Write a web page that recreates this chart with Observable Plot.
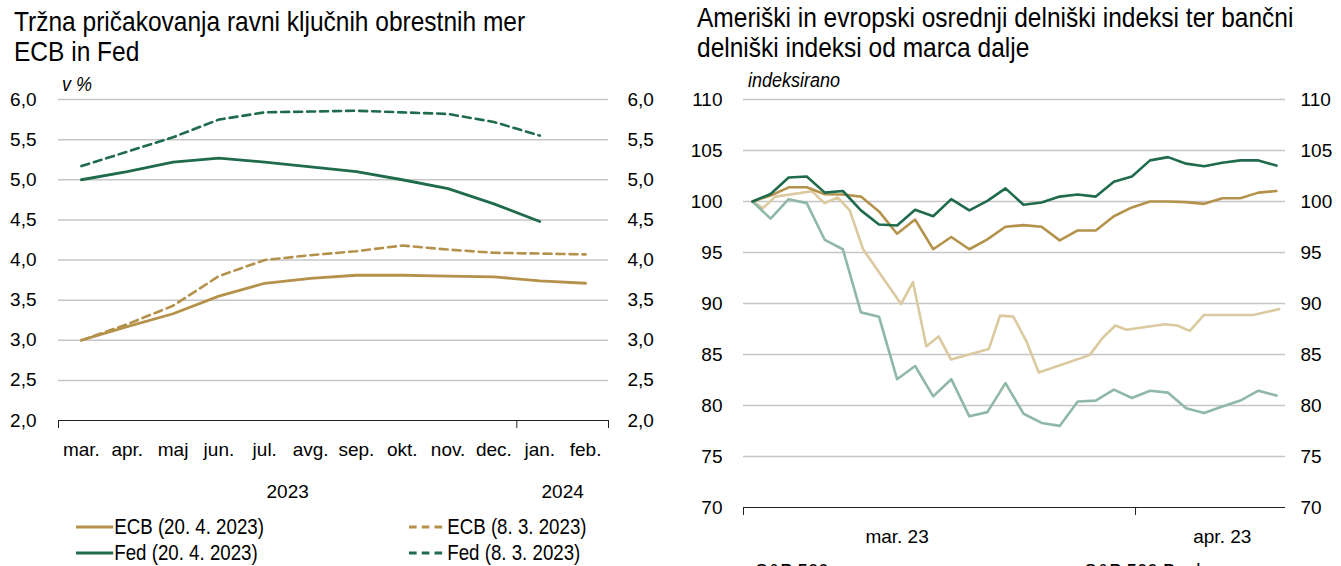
<!DOCTYPE html>
<html>
<head>
<meta charset="utf-8">
<script src="https://cdn.jsdelivr.net/npm/d3@7"></script>
<script src="https://cdn.jsdelivr.net/npm/@observablehq/plot@0.6"></script>
<style>
  html, body { margin: 0; padding: 0; background: #fff; }
  body { width: 1341px; height: 566px; overflow: hidden; position: relative;
         font-family: "Liberation Sans", Arial, sans-serif; color: #000; }
  .abs { position: absolute; white-space: nowrap; transform-origin: 0 50%; }
  .title { font-size: 28px; line-height: 30px; transform: scaleX(0.875); transform-origin: 0 0; }
  .unit { font-size: 20px; font-style: italic; transform: scaleX(0.9); }
  .leg { font-size: 22px; line-height: 26px; display: flex; align-items: center; transform: scaleX(0.85); }
  .leg svg { margin-right: 1px; }
</style>
</head>
<body>
<div id="root"></div>
<script>
// ---------- Left chart data ----------
const months = ["mar.", "apr.", "maj", "jun.", "jul.", "avg.", "sep.", "okt.", "nov.", "dec.", "jan.", "feb."];
const yearLabels = ["2023", "2024"];
const yearFirstMonth = [0, 10];
const yearLastMonth = [9, 11];
const leftYTicks = [2.0, 2.5, 3.0, 3.5, 4.0, 4.5, 5.0, 5.5, 6.0];

const ecbApr = [3.00, 3.17, 3.33, 3.55, 3.71, 3.77, 3.81, 3.81, 3.80, 3.79, 3.74, 3.71];
const ecbMar = [3.00, 3.20, 3.43, 3.80, 4.00, 4.06, 4.11, 4.18, 4.13, 4.09, 4.08, 4.07];
const fedApr = [5.00, 5.10, 5.22, 5.27, 5.22, 5.16, 5.10, 5.00, 4.89, 4.70, 4.48];
const fedMar = [5.17, 5.35, 5.53, 5.75, 5.84, 5.85, 5.86, 5.84, 5.82, 5.72, 5.55];
const leftSeriesNames = ["ECB (20. 4. 2023)", "ECB (8. 3. 2023)", "Fed (20. 4. 2023)", "Fed (8. 3. 2023)"];

// ---------- Right chart data ----------
const rightYTicks = [70, 75, 80, 85, 90, 95, 100, 105, 110];
const rightXTickPos = [-0.5, 21.2];      // axis tick marks (start, 1 April)
const rightXLabelPos = [8.0, 26.0];
const rightXLabels = ["mar. 23", "apr. 23"];
const rightXDomain = [-0.5, 29.5];

const sp500 = [100.0, 100.74, 102.35, 102.45, 100.87, 101.03, 99.13, 97.74, 97.65, 99.19,
               98.55, 100.23, 99.13, 100.06, 101.29, 99.68, 99.90, 100.48, 100.68, 100.48,
               101.94, 102.45, 104.03, 104.35, 103.71, 103.45, 103.80, 104.03, 104.03, 103.52];
const eurostoxx50 = [100.0, 100.58, 101.39, 101.39, 100.71, 100.68, 100.48, 99.03, 96.84, 98.23,
               95.32, 96.52, 95.32, 96.29, 97.52, 97.68, 97.52, 96.19, 97.16, 97.16,
               98.55, 99.42, 100.0, 100.0, 99.94, 99.77, 100.32, 100.32, 100.87, 101.03];
const spBanks = [100.0, 98.32, 100.23, 99.84, 96.23, 95.32, 89.13, 88.71, 82.58, 83.87,
               80.90, 82.58, 78.94, 79.35, 82.19, 79.19, 78.29, 78.00, 80.39, 80.48,
               81.55, 80.74, 81.45, 81.26, 79.74, 79.26, 79.90, 80.48, 81.45, 80.97];
// Euro Stoxx Banks is drawn on its own (calendar-day) positions
const euBanksPos = [0, 0.58, 1.26, 3.30, 3.98, 4.72, 5.38, 6.12, 8.22, 8.88, 9.62, 10.30, 10.98,
               13.08, 13.70, 14.44, 15.16, 15.84, 18.66, 19.34, 20.08, 20.70, 22.83, 23.51,
               24.20, 24.98, 27.70, 29.15];
const euBanks = [100.0, 99.35, 100.48, 101.0, 99.84, 100.39, 99.13, 95.32, 89.94, 92.10, 85.81,
               86.77, 84.52, 85.55, 88.81, 88.71, 86.29, 83.23, 84.94, 86.55, 87.84, 87.42,
               87.97, 87.84, 87.32, 88.87, 88.87, 89.45];
const rightSeriesNames = ["S&P 500", "S&P 500 Banks", "Euro Stoxx 50", "Euro Stoxx Banks"];

// ---------- styles ----------
const C_DGREEN = "#1f6b4c", C_GOLD = "#b5924c", C_LTEAL = "#8fb9a6", C_LGOLD = "#dbc99f";
const GRID = "#c6c6c6";
const FONT = '"Liberation Sans", Arial, sans-serif';
const fmtL = d => d.toFixed(1).replace(".", ",");

const root = document.getElementById("root");
function addDiv(cls, text, left, top, extra) {
  const d = document.createElement("div");
  d.className = "abs " + cls;
  d.style.left = left + "px"; d.style.top = top + "px";
  if (extra) Object.assign(d.style, extra);
  d.innerHTML = text;
  root.appendChild(d);
  return d;
}

// ---------- Left chart ----------
const lrows = arr => arr.map((v, i) => ({i, v}));
const leftPlot = Plot.plot({
  width: 670, height: 430,
  marginLeft: 58, marginRight: 62, marginTop: 29, marginBottom: 80,
  style: {fontFamily: FONT, fontSize: "19px", color: "#000", background: "transparent", overflow: "visible"},
  x: {type: "linear", domain: [-0.5, months.length - 0.5]},
  y: {domain: [2, 6]},
  marks: [
    Plot.ruleY(leftYTicks.filter(d => d > 2), {stroke: GRID, strokeWidth: 1.5}),
    Plot.ruleY([2], {stroke: "#222", strokeWidth: 1.2}),
    Plot.axisY({anchor: "left", ticks: leftYTicks, tickSize: 0, tickPadding: 22, tickFormat: fmtL, label: null}),
    Plot.axisY({anchor: "right", ticks: leftYTicks, tickSize: 0, tickPadding: 19, tickFormat: fmtL, label: null, textAnchor: "start"}),
    Plot.axisX({ticks: d3.range(months.length), tickFormat: i => months[i], tickSize: 0, tickPadding: 22, label: null}),
    Plot.axisX({ticks: [-0.5, ...yearLastMonth.map(m => m + 0.5)], tickSize: 8, tickFormat: () => "", label: null, stroke: "#222"}),
    Plot.axisX({ticks: yearFirstMonth.map((f, k) => (f + yearLastMonth[k]) / 2), tickFormat: (d, k) => yearLabels[k], tickSize: 0, tickPadding: 64, label: null}),
    Plot.line(lrows(ecbMar), {x: "i", y: "v", stroke: C_GOLD, strokeWidth: 2.6, strokeDasharray: "8,5"}),
    Plot.line(lrows(fedMar), {x: "i", y: "v", stroke: C_DGREEN, strokeWidth: 2.6, strokeDasharray: "8,5"}),
    Plot.line(lrows(ecbApr), {x: "i", y: "v", stroke: C_GOLD, strokeWidth: 2.8}),
    Plot.line(lrows(fedApr), {x: "i", y: "v", stroke: C_DGREEN, strokeWidth: 2.8})
  ]
});
leftPlot.style.position = "absolute";
leftPlot.style.left = "0px";
leftPlot.style.top = "70px";
root.appendChild(leftPlot);

// ---------- Right chart ----------
const rrows = (arr, pos) => arr.map((v, i) => ({x: pos ? pos[i] : i, v}));
const rightPlot = Plot.plot({
  width: 661, height: 496,
  marginLeft: 63, marginRight: 56, marginTop: 29, marginBottom: 59,
  style: {fontFamily: FONT, fontSize: "19px", color: "#000", background: "transparent", overflow: "visible"},
  x: {type: "linear", domain: rightXDomain},
  y: {domain: [70, 110]},
  marks: [
    Plot.ruleY(rightYTicks.filter(d => d > 70), {stroke: GRID, strokeWidth: 1.5}),
    Plot.ruleY([70], {stroke: "#222", strokeWidth: 1.2}),
    Plot.axisY({anchor: "left", ticks: rightYTicks, tickSize: 0, tickPadding: 21, label: null}),
    Plot.axisY({anchor: "right", ticks: rightYTicks, tickSize: 0, tickPadding: 15, label: null, textAnchor: "start"}),
    Plot.axisX({ticks: rightXTickPos, tickSize: 8, tickFormat: () => "", label: null, stroke: "#222"}),
    Plot.axisX({ticks: rightXLabelPos, tickFormat: (d, k) => rightXLabels[k], tickSize: 0, tickPadding: 22, label: null}),
    Plot.line(rrows(euBanks, euBanksPos), {x: "x", y: "v", stroke: C_LGOLD, strokeWidth: 2.6}),
    Plot.line(rrows(spBanks), {x: "x", y: "v", stroke: C_LTEAL, strokeWidth: 2.6}),
    Plot.line(rrows(eurostoxx50), {x: "x", y: "v", stroke: C_GOLD, strokeWidth: 2.6}),
    Plot.line(rrows(sp500), {x: "x", y: "v", stroke: C_DGREEN, strokeWidth: 2.6})
  ]
});
rightPlot.style.position = "absolute";
rightPlot.style.left = "680px";
rightPlot.style.top = "70px";
root.appendChild(rightPlot);

// ---------- Titles and labels ----------
addDiv("title", "Tržna pričakovanja ravni ključnih obrestnih mer<br>ECB in Fed", 14, 7);
addDiv("title", "Ameriški in evropski osrednji delniški indeksi ter bančni<br>delniški indeksi od marca dalje", 697, 3);
addDiv("unit", "v %", 62, 73);
addDiv("unit", "indeksirano", 748, 69);

// ---------- Legends ----------
function swatch(color, dashed) {
  return `<svg width="44" height="10"><line x1="0" y1="5" x2="44" y2="5" stroke="${color}" stroke-width="3" ${dashed ? 'stroke-dasharray="9,6"' : ""}/></svg>`;
}
addDiv("leg", swatch(C_GOLD, false) + leftSeriesNames[0], 76, 514);
addDiv("leg", swatch(C_GOLD, true) + leftSeriesNames[1], 409, 514);
addDiv("leg", swatch(C_DGREEN, false) + leftSeriesNames[2], 76, 540);
addDiv("leg", swatch(C_DGREEN, true) + leftSeriesNames[3], 409, 540);
addDiv("leg", swatch(C_DGREEN, false) + rightSeriesNames[0], 717, 559);
addDiv("leg", swatch(C_LTEAL, false) + rightSeriesNames[1], 1046, 559);
</script>
</body>
</html>
